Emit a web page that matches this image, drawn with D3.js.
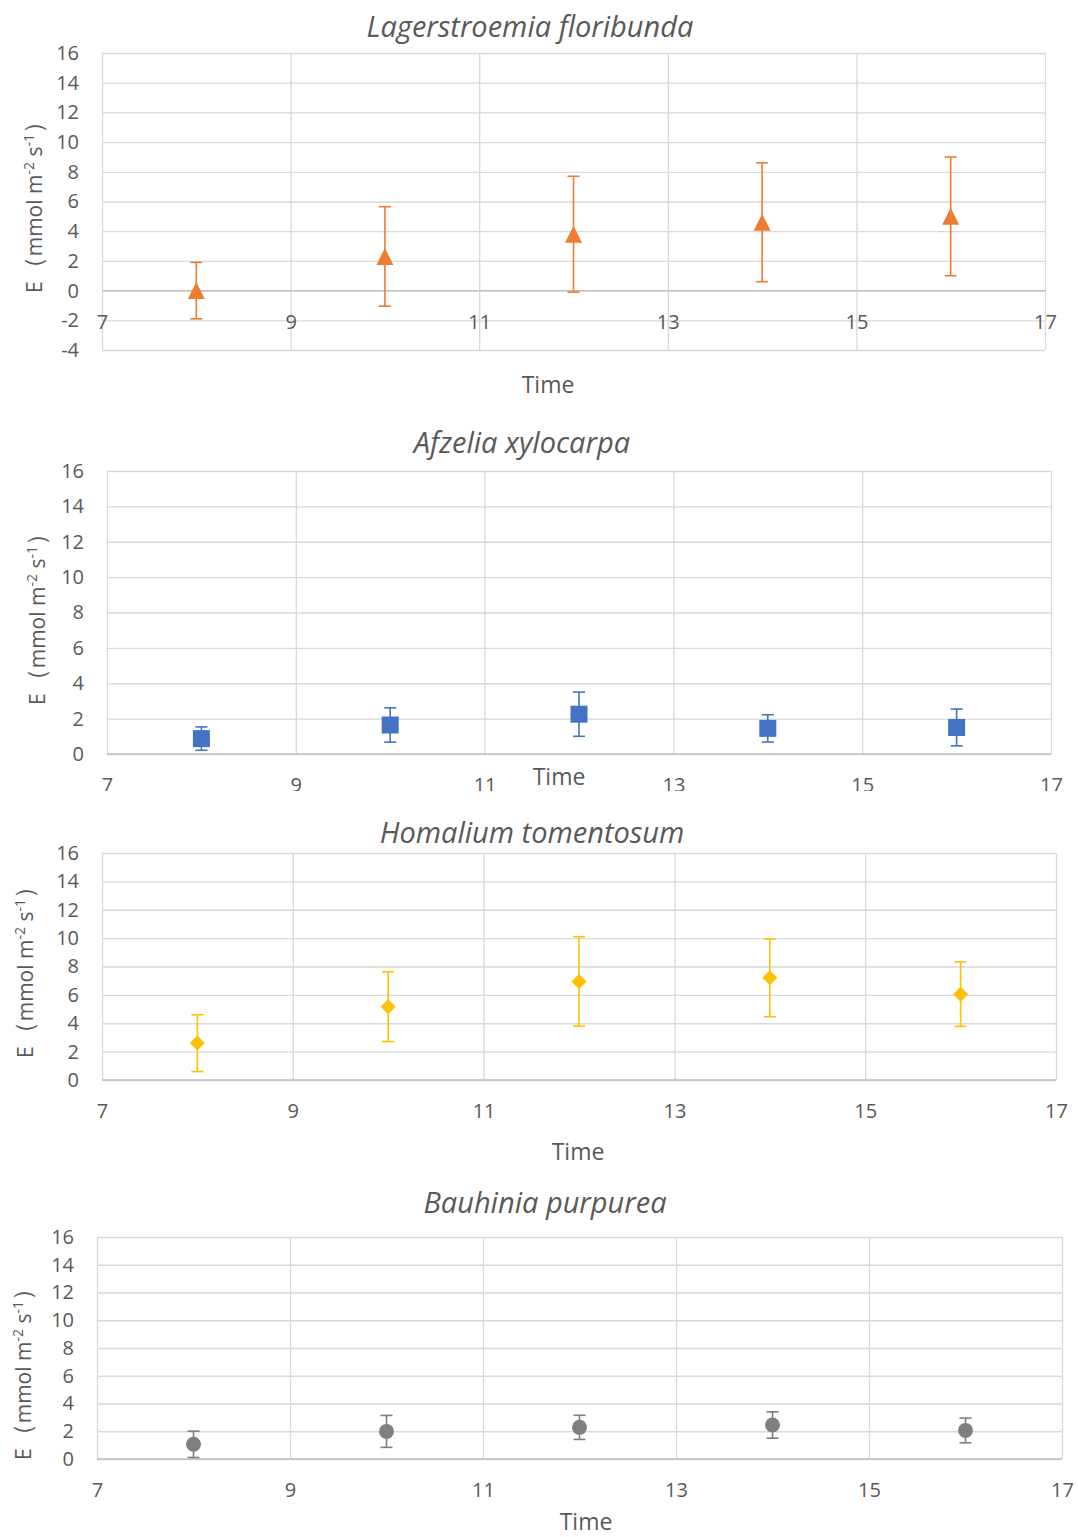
<!DOCTYPE html>
<html>
<head>
<meta charset="utf-8">
<script src="https://cdn.jsdelivr.net/npm/d3@7"></script>
<style>
  body { margin: 0; background: #fff; }
  svg { display: block; font-family: "Open Sans", sans-serif; }
</style>
</head>
<body>
<svg id="chart"></svg>
<script>
// measured hours of the day
const hours = [8, 10, 12, 14, 16];
const xTicks = [7, 9, 11, 13, 15, 17];

const speciesNames = ["Lagerstroemia floribunda", "Afzelia xylocarpa", "Homalium tomentosum", "Bauhinia purpurea"];

// E (mmol m-2 s-1), mean and error bar half-length
const lagerstroemiaMean = [0.0, 2.3, 3.8, 4.6, 5.0];
const lagerstroemiaErr = [1.9, 3.35, 3.9, 4.0, 4.0];
const afzeliaMean = [0.87, 1.64, 2.25, 1.45, 1.5];
const afzeliaErr = [0.66, 0.97, 1.25, 0.77, 1.04];
const homaliumMean = [2.6, 5.17, 6.95, 7.2, 6.05];
const homaliumErr = [2.0, 2.46, 3.15, 2.74, 2.27];
const bauhiniaMean = [1.06, 1.99, 2.28, 2.45, 2.06];
const bauhiniaErr = [0.95, 1.15, 0.87, 0.95, 0.89];

const width = 1078;
const height = 1537;
const textColor = "#595959";
const gridColor = "#d9d9d9";

// layout of each of the four stacked charts
const panels = [
    { name: speciesNames[0], mean: lagerstroemiaMean, err: lagerstroemiaErr, yMin: -4,
      color: "#ED7D31", shape: "triangle",
      left: 102, right: 1045, top: 53, bottom: 350,
      titleX: 530, titleY: 37, timeX: 548, timeY: 393, yLabX: 42, yLabY: 201, clip: null },
    { name: speciesNames[1], mean: afzeliaMean, err: afzeliaErr, yMin: 0,
      color: "#4472C4", shape: "square",
      left: 107, right: 1051, top: 471, bottom: 754,
      titleX: 522, titleY: 453, timeX: 559, timeY: 785, yLabX: 45, yLabY: 613, clip: [400, 791] },
    { name: speciesNames[2], mean: homaliumMean, err: homaliumErr, yMin: 0,
      color: "#FFC000", shape: "diamond",
      left: 102, right: 1056, top: 853, bottom: 1080,
      titleX: 532, titleY: 843, timeX: 578, timeY: 1160, yLabX: 33, yLabY: 966, clip: null },
    { name: speciesNames[3], mean: bauhiniaMean, err: bauhiniaErr, yMin: 0,
      color: "#7F7F7F", shape: "circle",
      left: 97, right: 1062, top: 1237, bottom: 1459,
      titleX: 545, titleY: 1213, timeX: 586, timeY: 1530, yLabX: 31, yLabY: 1368, clip: null }
];

const markerPath = {
    triangle: () => "M0,-8.5L8.5,8.5L-8.5,8.5Z",
    square: () => "M-8.5,-8.5H8.5V8.5H-8.5Z",
    diamond: () => "M0,-7.5L7.5,0L0,7.5L-7.5,0Z",
    circle: () => d3.symbol(d3.symbolCircle, Math.PI * 7.5 * 7.5)()
};

const svg = d3.select("#chart")
    .attr("width", width)
    .attr("height", height)
    .attr("viewBox", [0, 0, width, height]);

svg.append("rect").attr("width", width).attr("height", height).attr("fill", "#fff");

panels.forEach((p, i) => {
    let g = svg.append("g");
    if (p.clip) {
        svg.append("clipPath").attr("id", "clip" + i)
            .append("rect").attr("x", 0).attr("y", p.clip[0]).attr("width", width).attr("height", p.clip[1] - p.clip[0]);
        g.attr("clip-path", `url(#clip${i})`);
    }

    const x = d3.scaleLinear().domain([7, 17]).range([p.left, p.right]);
    const y = d3.scaleLinear().domain([p.yMin, 16]).range([p.bottom, p.top]);
    const yTicks = d3.range(p.yMin, 17, 2);

    // horizontal gridlines + y tick labels
    const yAxis = g.append("g")
        .attr("transform", `translate(${p.left},0)`)
        .call(d3.axisLeft(y).tickValues(yTicks).tickSize(-(p.right - p.left)).tickPadding(23)
            .tickFormat(d => String(d)));
    yAxis.select(".domain").remove();
    yAxis.selectAll("line").attr("stroke", gridColor).attr("stroke-width", 1.3);
    yAxis.selectAll("text").attr("fill", textColor).attr("font-size", 20)
        .attr("font-family", "Open Sans");

    // vertical gridlines
    const xGrid = g.append("g")
        .attr("transform", `translate(0,${p.bottom})`)
        .call(d3.axisBottom(x).tickValues(xTicks).tickSize(-(p.bottom - p.top)).tickFormat(""));
    xGrid.select(".domain").remove();
    xGrid.selectAll("line").attr("stroke", gridColor).attr("stroke-width", 1.3);

    // x tick labels sit next to the zero line
    const xAxis = g.append("g")
        .attr("transform", `translate(0,${y(0)})`)
        .call(d3.axisBottom(x).tickValues(xTicks).tickSize(0).tickPadding(24));
    xAxis.select(".domain").remove();
    xAxis.selectAll("text").attr("fill", textColor).attr("font-size", 20)
        .attr("font-family", "Open Sans");

    // zero axis line
    g.append("line")
        .attr("x1", p.left).attr("x2", p.right)
        .attr("y1", y(0)).attr("y2", y(0))
        .attr("stroke", "#bfbfbf").attr("stroke-width", 1.3);

    // title
    g.append("text")
        .attr("x", p.titleX).attr("y", p.titleY)
        .attr("text-anchor", "middle")
        .attr("font-size", 29).attr("font-style", "italic")
        .attr("fill", textColor)
        .text(p.name);

    // x axis title
    g.append("text")
        .attr("x", p.timeX).attr("y", p.timeY)
        .attr("text-anchor", "middle")
        .attr("font-size", 23)
        .attr("fill", textColor)
        .text("Time");

    // y axis title (full-width brackets, as in the original)
    const yl = g.append("text")
        .attr("transform", `translate(${p.yLabX},${p.yLabY}) rotate(-90)`)
        .attr("text-anchor", "middle")
        .attr("font-size", 21)
        .attr("fill", textColor);
    yl.append("tspan").text("E");
    yl.append("tspan").attr("font-size", 25).text("（");
    yl.append("tspan").text("mmol m");
    yl.append("tspan").attr("font-size", 14).attr("dy", -8).text("-2");
    yl.append("tspan").attr("dy", 8).text(" s");
    yl.append("tspan").attr("font-size", 14).attr("dy", -8).text("-1");
    yl.append("tspan").attr("dy", 8).attr("font-size", 25).text("）");

    const pts = hours.map((h, k) => ({ h: h, m: p.mean[k], e: p.err[k] }));

    // error bars
    const eb = g.append("g")
        .attr("stroke", p.color).attr("stroke-width", 1.6);
    eb.selectAll(".bar").data(pts).join("line")
        .attr("x1", d => x(d.h)).attr("x2", d => x(d.h))
        .attr("y1", d => y(d.m - d.e)).attr("y2", d => y(d.m + d.e));
    eb.selectAll(".capTop").data(pts).join("line").attr("class", "capTop")
        .attr("x1", d => x(d.h) - 6).attr("x2", d => x(d.h) + 6)
        .attr("y1", d => y(d.m + d.e)).attr("y2", d => y(d.m + d.e));
    eb.selectAll(".capBot").data(pts).join("line").attr("class", "capBot")
        .attr("x1", d => x(d.h) - 6).attr("x2", d => x(d.h) + 6)
        .attr("y1", d => y(d.m - d.e)).attr("y2", d => y(d.m - d.e));

    // markers
    g.append("g").selectAll("path").data(pts).join("path")
        .attr("transform", d => `translate(${x(d.h)},${y(d.m)})`)
        .attr("d", markerPath[p.shape]())
        .attr("fill", p.color);
});
</script>
</body>
</html>
